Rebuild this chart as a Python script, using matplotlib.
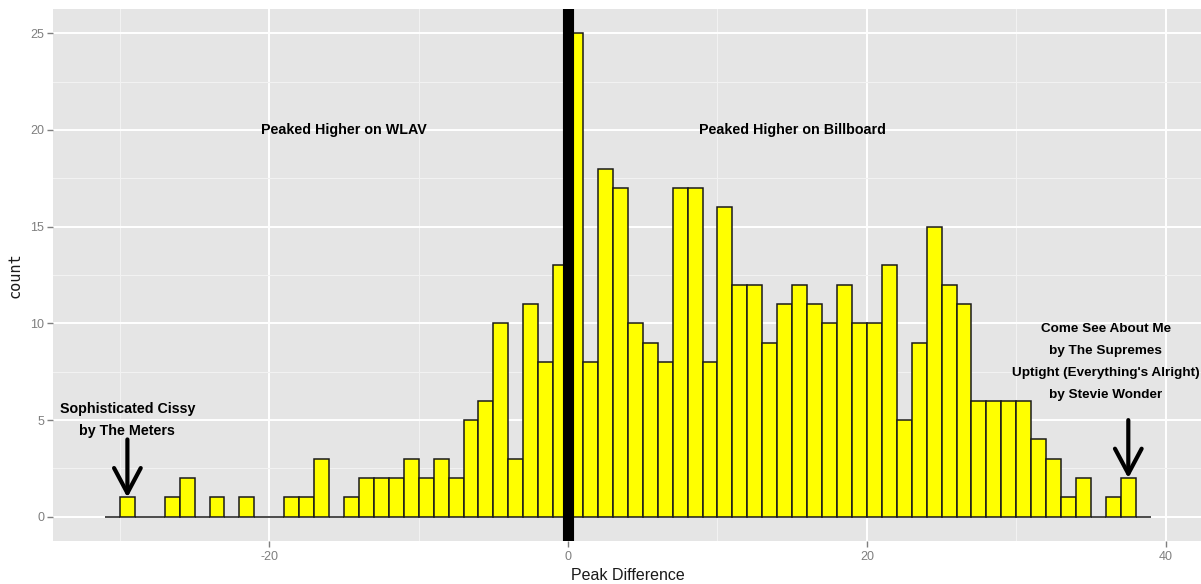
import matplotlib
matplotlib.use("Agg")
import matplotlib.pyplot as plt
from matplotlib.ticker import MultipleLocator

# Histogram of peak-position differences (Billboard vs WLAV), binwidth 1
bin_left = list(range(-31, 39))
counts = [
    0, 1, 0, 0, 1, 2, 0, 1, 0, 1,      # -31 .. -22
    0, 0, 1, 1, 3, 0, 1, 2, 2, 2,      # -21 .. -12
    3, 2, 3, 2, 5, 6, 10, 3, 11, 8,    # -11 .. -2
    13, 25, 8, 18, 17, 10, 9, 8, 17, 17,  # -1 .. 8
    8, 16, 12, 12, 9, 11, 12, 11, 10, 12,  # 9 .. 18
    10, 10, 13, 5, 9, 15, 12, 11, 6, 6,    # 19 .. 28
    6, 6, 4, 3, 1, 2, 0, 1, 2, 0,          # 29 .. 38
]

x_ticks = [-20, 0, 20, 40]
y_ticks = [0, 5, 10, 15, 20, 25]

region_labels = ["Peaked Higher on WLAV", "Peaked Higher on Billboard"]
region_x = [-15, 15]
region_y = 20

left_note = "Sophisticated Cissy\nby The Meters"
left_note_xy = (-29.5, 5)
left_arrow = (-29.5, 4, 1)      # x, start y, tip y

right_note = ("Come See About Me\nby The Supremes\n"
              "Uptight (Everything's Alright)\nby Stevie Wonder")
right_note_xy = (36, 8)
right_arrow = (37.5, 5, 2)

plt.rcParams["font.family"] = ["Liberation Sans", "DejaVu Sans"]
plt.rcParams["axes.unicode_minus"] = False

fig = plt.figure(figsize=(12.01, 5.84), dpi=100)
ax = fig.add_axes([52.7 / 1201, 43 / 584, (1203 - 52.7) / 1201, 532 / 584])

ax.set_facecolor("#E5E5E5")
for s in ax.spines.values():
    s.set_visible(False)

ax.set_xlim(-34.5, 42.5)
ax.set_ylim(-1.25, 26.25)
ax.set_xticks(x_ticks)
ax.set_yticks(y_ticks)
ax.xaxis.set_minor_locator(MultipleLocator(10))
ax.yaxis.set_minor_locator(MultipleLocator(2.5))
ax.grid(which="major", color="white", linewidth=1.4)
ax.grid(which="minor", color="#F2F2F2", linewidth=0.8)
ax.set_axisbelow(True)
ax.tick_params(which="major", colors="#7F7F7F", labelsize=9, length=4, width=1, pad=2)
ax.tick_params(which="minor", length=0)
ax.tick_params(axis="x", pad=3)

ax.bar(bin_left, counts, width=1, align="edge", color="#FFFF00",
       edgecolor="#1A1A1A", linewidth=1.1, zorder=2)

ax.axvline(0, color="black", linewidth=8, zorder=3)

ax.set_xlabel("Peak Difference", fontsize=11.5, color="#1A1A1A", labelpad=4)
ax.set_ylabel("count", fontsize=11, color="#1A1A1A", labelpad=6,
              family="DejaVu Sans Mono")

text_kw = dict(ha="center", va="center", fontweight="bold",
               color="black", zorder=4)
for lab, xv in zip(region_labels, region_x):
    ax.text(xv, region_y, lab, fontsize=10.3, **text_kw)

ax.text(*left_note_xy, left_note, fontsize=10.3, linespacing=1.76, **text_kw)
ax.text(*right_note_xy, right_note, fontsize=9.7, linespacing=2.1, **text_kw)

arrow_kw = dict(arrowstyle="->,head_length=18,head_width=9.6",
                mutation_scale=1, color="black", lw=3, shrinkA=0, shrinkB=0)
for ax_x, y0, y1 in (left_arrow, right_arrow):
    ax.annotate("", xy=(ax_x, y1), xytext=(ax_x, y0),
                arrowprops=dict(arrow_kw), zorder=4)

fig.savefig("out.png", dpi=100)
